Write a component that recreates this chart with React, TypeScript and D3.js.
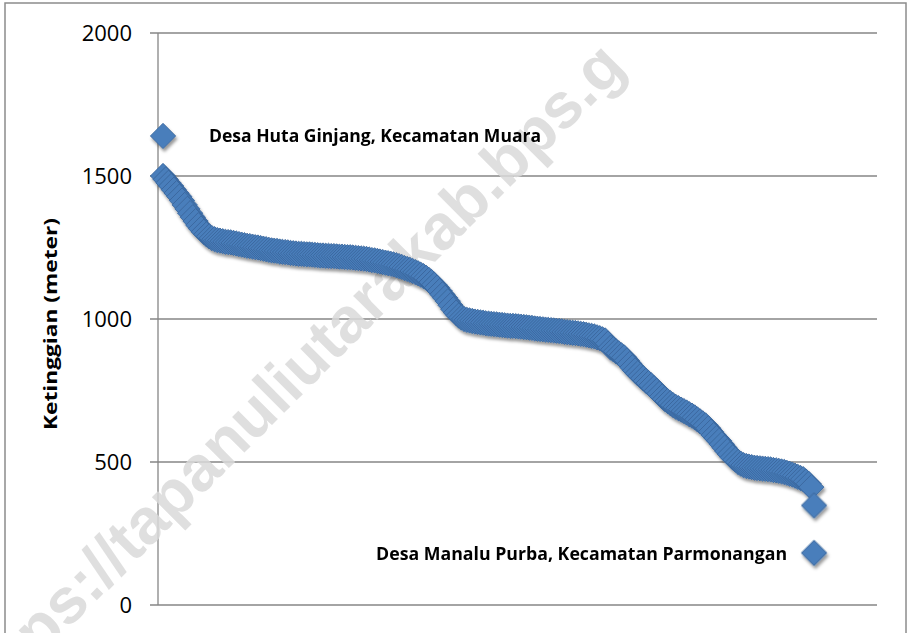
import React from 'react';
import * as d3 from 'd3';

const W = 909;
const H = 633;

const yTicks = [0, 500, 1000, 1500, 2000];

// Elevation (m) of villages, sorted from highest to lowest
const elevations = [
  1500, 1488, 1476, 1465, 1452, 1440, 1428, 1414, 1399, 1385,
  1370, 1356, 1342, 1328, 1316, 1305, 1296, 1289, 1283, 1279,
  1276, 1274, 1272, 1270, 1269, 1268, 1266, 1264, 1262, 1260,
  1258, 1256, 1255, 1253, 1251, 1250, 1248, 1246, 1244, 1242,
  1240, 1239, 1238, 1236, 1235, 1234, 1233, 1231, 1230, 1229,
  1228, 1228, 1227, 1226, 1226, 1225, 1224, 1223, 1222, 1222,
  1221, 1221, 1220, 1220, 1219, 1218, 1218, 1217, 1216, 1216,
  1215, 1214, 1213, 1212, 1211, 1210, 1208, 1206, 1205, 1203,
  1201, 1199, 1197, 1195, 1193, 1191, 1188, 1185, 1182, 1178,
  1175, 1172, 1168, 1164, 1160, 1155, 1150, 1144, 1137, 1129,
  1120, 1110, 1098, 1086, 1074, 1062, 1048, 1034, 1022, 1012,
  1005, 1000, 997, 995, 993, 991, 990, 988, 987, 985,
  984, 983, 982, 981, 980, 979, 978, 977, 976, 976,
  975, 974, 973, 972, 971, 970, 969, 967, 966, 965,
  964, 963, 962, 961, 960, 959, 958, 957, 955, 954,
  953, 952, 951, 950, 948, 947, 945, 943, 941, 939,
  936, 933, 929, 925, 914, 900, 894, 887, 880, 873,
  866, 855, 843, 831, 820, 810, 801, 793, 784, 776,
  768, 758, 749, 739, 729, 720, 713, 706, 699, 693,
  688, 683, 678, 673, 667, 662, 656, 649, 642, 635,
  628, 618, 606, 594, 584, 574, 562, 550, 538, 527,
  516, 508, 500, 494, 489, 486, 484, 482, 480, 479,
  478, 477, 476, 475, 474, 472, 471, 469, 467, 465,
  462, 459, 456, 452, 448, 444, 440, 432, 424, 412,
  348,
];

const highlightX = [1, 241];
const highlightY = [1640, 182];
const highlightLabels = [
  'Desa Huta Ginjang, Kecamatan Muara',
  'Desa Manalu Purba, Kecamatan Parmonangan',
];
const axisTitle = 'Ketinggian (meter)';
const watermark = 'https://tapanuliutarakab.bps.g';

// layout
const plot = { left: 158, right: 877, top: 33, bottom: 605 };
const xDomain = [-0.85, 264.2];

export default function App() {
  const x = d3.scaleLinear().domain(xDomain).range([plot.left, plot.right]);
  const y = d3.scaleLinear().domain([0, 2000]).range([plot.bottom, plot.top]);
  const diamond = d3.symbol().type(d3.symbolSquare).size(320)() as string;
  const grid = '#868686';
  const fill = '#4a7ebb';
  const edge = '#37649b';

  return (
    <svg
      width={W}
      height={H}
      style={{ position: 'absolute', left: 0, top: 0, background: '#fff' }}
    >
      <defs>
        <filter id="sh" x="-20%" y="-20%" width="140%" height="140%">
          <feDropShadow dx="1.5" dy="3" stdDeviation="1.8" floodColor="#000" floodOpacity="0.4" />
        </filter>
      </defs>
      <rect x={0} y={0} width={W} height={H} fill="#fff" />
      <rect x={5} y={3} width={901} height={660} fill="#fff" stroke="#8c8c8c" strokeWidth={1.5} />

      {/* gridlines + ticks */}
      {yTicks.map((t) => (
        <g key={t}>
          <line x1={plot.left - 8} x2={plot.right} y1={y(t)} y2={y(t)} stroke={grid} strokeWidth={1.3} />
          <text
            x={132}
            y={y(t)}
            dy="0.36em"
            textAnchor="end"
            fontFamily="'Open Sans', sans-serif"
            fontSize={22}
            fill="#000"
          >
            {t}
          </text>
        </g>
      ))}
      <line x1={plot.left} x2={plot.left} y1={plot.top} y2={plot.bottom} stroke={grid} strokeWidth={1.3} />

      {/* watermark */}
      <text
        transform={`translate(628,69) rotate(-45)`}
        textAnchor="end"
        fontFamily="'Liberation Sans', Arial, sans-serif"
        fontWeight="bold"
        fontSize={64}
        fill="#d9d9d9"
        fillOpacity={0.85}
      >
        {watermark}
      </text>

      {/* y axis title */}
      <text
        transform={`translate(57,324) rotate(-90)`}
        textAnchor="middle"
        fontFamily="'Open Sans', sans-serif"
        fontWeight="bold"
        fontSize={18}
        textLength={212}
        lengthAdjust="spacingAndGlyphs"
        fill="#000"
      >
        {axisTitle}
      </text>

      {/* main series */}
      <g filter="url(#sh)">
        {elevations.map((v, i) => (
          <path
            key={i}
            d={diamond}
            transform={`translate(${x(i + 1)},${y(v)}) rotate(45)`}
            fill={fill}
            stroke={edge}
            strokeWidth={0.8}
          />
        ))}
      </g>

      {/* highlighted extremes */}
      <g filter="url(#sh)">
        {highlightX.map((hx, i) => (
          <path
            key={i}
            d={diamond}
            transform={`translate(${x(hx)},${y(highlightY[i])}) rotate(45)`}
            fill={fill}
            stroke={edge}
            strokeWidth={0.8}
          />
        ))}
      </g>

      <text
        x={x(highlightX[0]) + 46}
        y={y(highlightY[0]) + 6}
        fontFamily="'Open Sans', sans-serif"
        fontWeight="bold"
        fontSize={18}
        textLength={332}
        lengthAdjust="spacingAndGlyphs"
        fill="#000"
      >
        {highlightLabels[0]}
      </text>
      <text
        x={x(highlightX[1]) - 27}
        y={y(highlightY[1]) + 7.5}
        textAnchor="end"
        fontFamily="'Open Sans', sans-serif"
        fontWeight="bold"
        fontSize={18}
        textLength={411}
        lengthAdjust="spacingAndGlyphs"
        fill="#000"
      >
        {highlightLabels[1]}
      </text>
    </svg>
  );
}
